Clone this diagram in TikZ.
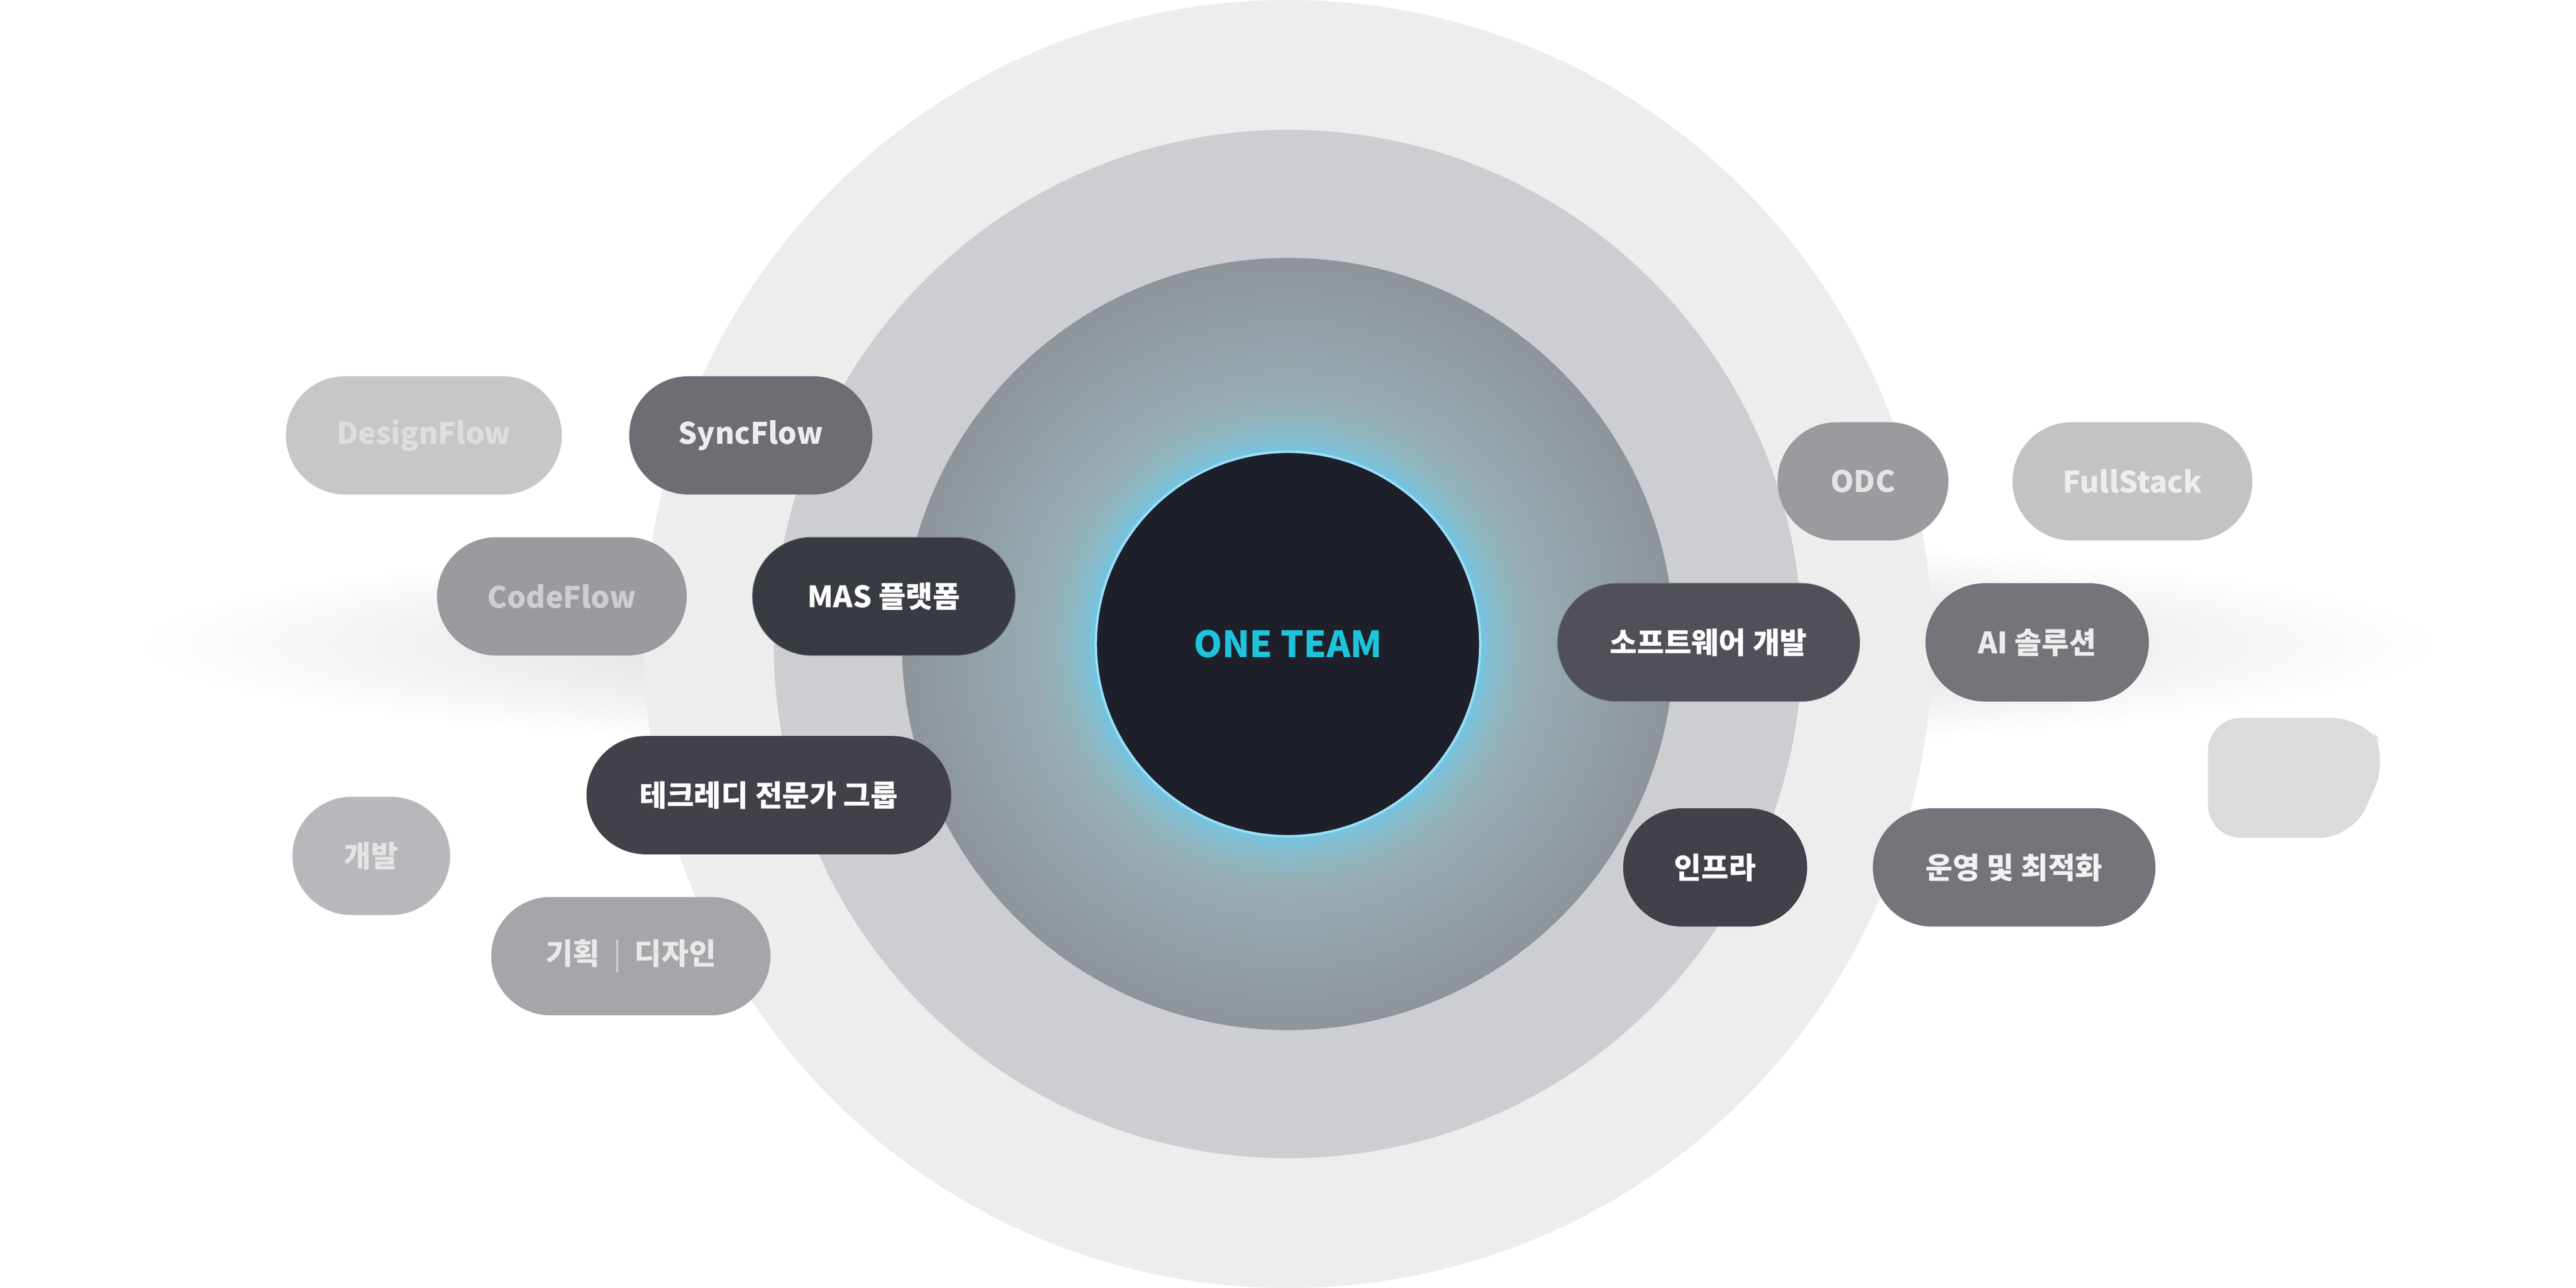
\documentclass[tikz,border=0pt]{standalone}
\usepackage{fontspec}
\setmainfont{Noto Sans CJK KR}
\usetikzlibrary{shapes.geometric}
\definecolor{ring1}{HTML}{EDEDED}
\definecolor{ring2}{HTML}{CDCED1}
\definecolor{ring3}{HTML}{8F949B}
\definecolor{core}{HTML}{1E2029}
\definecolor{teamcyan}{HTML}{1EC3DC}
\tikzset{
 pill/.style={rectangle,rounded corners=36pt,minimum height=72pt,inner sep=0pt,font=\fontsize{18}{20}\selectfont\bfseries},
}
\begin{document}
\begin{tikzpicture}[x=1pt,y=-1pt]
\useasboundingbox (0,0) rectangle (1568,784);
\fill[white] (0,0) rectangle (1568,784);
\shade[inner color=black!22,outer color=white] (784,392) ellipse [x radius=700,y radius=70];
\fill[ring1] (784,392) circle (392);
\fill[ring2] (784,392) circle (313);
\shade[inner color=ring2!80!cyan,outer color=ring3] (784,392) circle (235);
\foreach \r/\o in {150/0.06,142/0.08,136/0.1,130/0.14,125/0.2,121/0.3}
  \fill[cyan!60!white,opacity=\o] (784,392) circle (\r);
\node[circle,fill=core,draw=cyan!40!white,line width=1.5pt,minimum size=234pt,inner sep=0pt,
  text=teamcyan,font=\fontsize{22}{24}\selectfont\bfseries] (core) at (784,392) {ONE TEAM};
\node[pill,fill=core!25!white,text=core!15!white,minimum width=168pt] (designflow) at (258,265) {DesignFlow};
\node[pill,fill=core!65!white,text=core!8!white,minimum width=148pt] (syncflow) at (457,265) {SyncFlow};
\node[pill,fill=core!45!white,text=core!22!white,minimum width=152pt] (codeflow) at (342,363) {CodeFlow};
\node[pill,fill=core!88!white,draw=white!40!core,text=white,minimum width=160pt] (mas) at (538,363) {MAS 플랫폼};
\node[pill,fill=core!85!white,text=white,minimum width=222pt] (techready) at (468,484) {테크레디 전문가 그룹};
\node[pill,fill=core!32!white,text=core!12!white,minimum width=96pt] (dev) at (226,521) {개발};
\node[pill,fill=core!40!white,text=core!10!white,minimum width=170pt] (plan) at (384,582) {기획\hspace{8pt}{\mdseries\color{core!20!white}|}\hspace{8pt}디자인};
\node[pill,fill=core!78!white,draw=white!40!core,text=white,minimum width=184pt] (sw) at (1040,391) {소프트웨어 개발};
\node[pill,fill=core!45!white,text=core!12!white,minimum width=104pt] (odc) at (1134,293) {ODC};
\node[pill,fill=core!27!white,text=core!8!white,minimum width=146pt] (fullstack) at (1298,293) {FullStack};
\node[pill,fill=core!62!white,text=core!8!white,minimum width=136pt] (ai) at (1240,391) {AI 솔루션};
\node[pill,fill=core!85!white,text=white,minimum width=112pt] (infra) at (1044,528) {인프라};
\node[pill,fill=core!62!white,text=core!6!white,minimum width=172pt] (ops) at (1226,528) {운영 및 최적화};
\fill[core!16!white,rounded corners=20pt] (1344,437) -- (1440,437) -- (1454,460) -- (1432,510) -- (1344,510) -- cycle;
\end{tikzpicture}
\end{document}
